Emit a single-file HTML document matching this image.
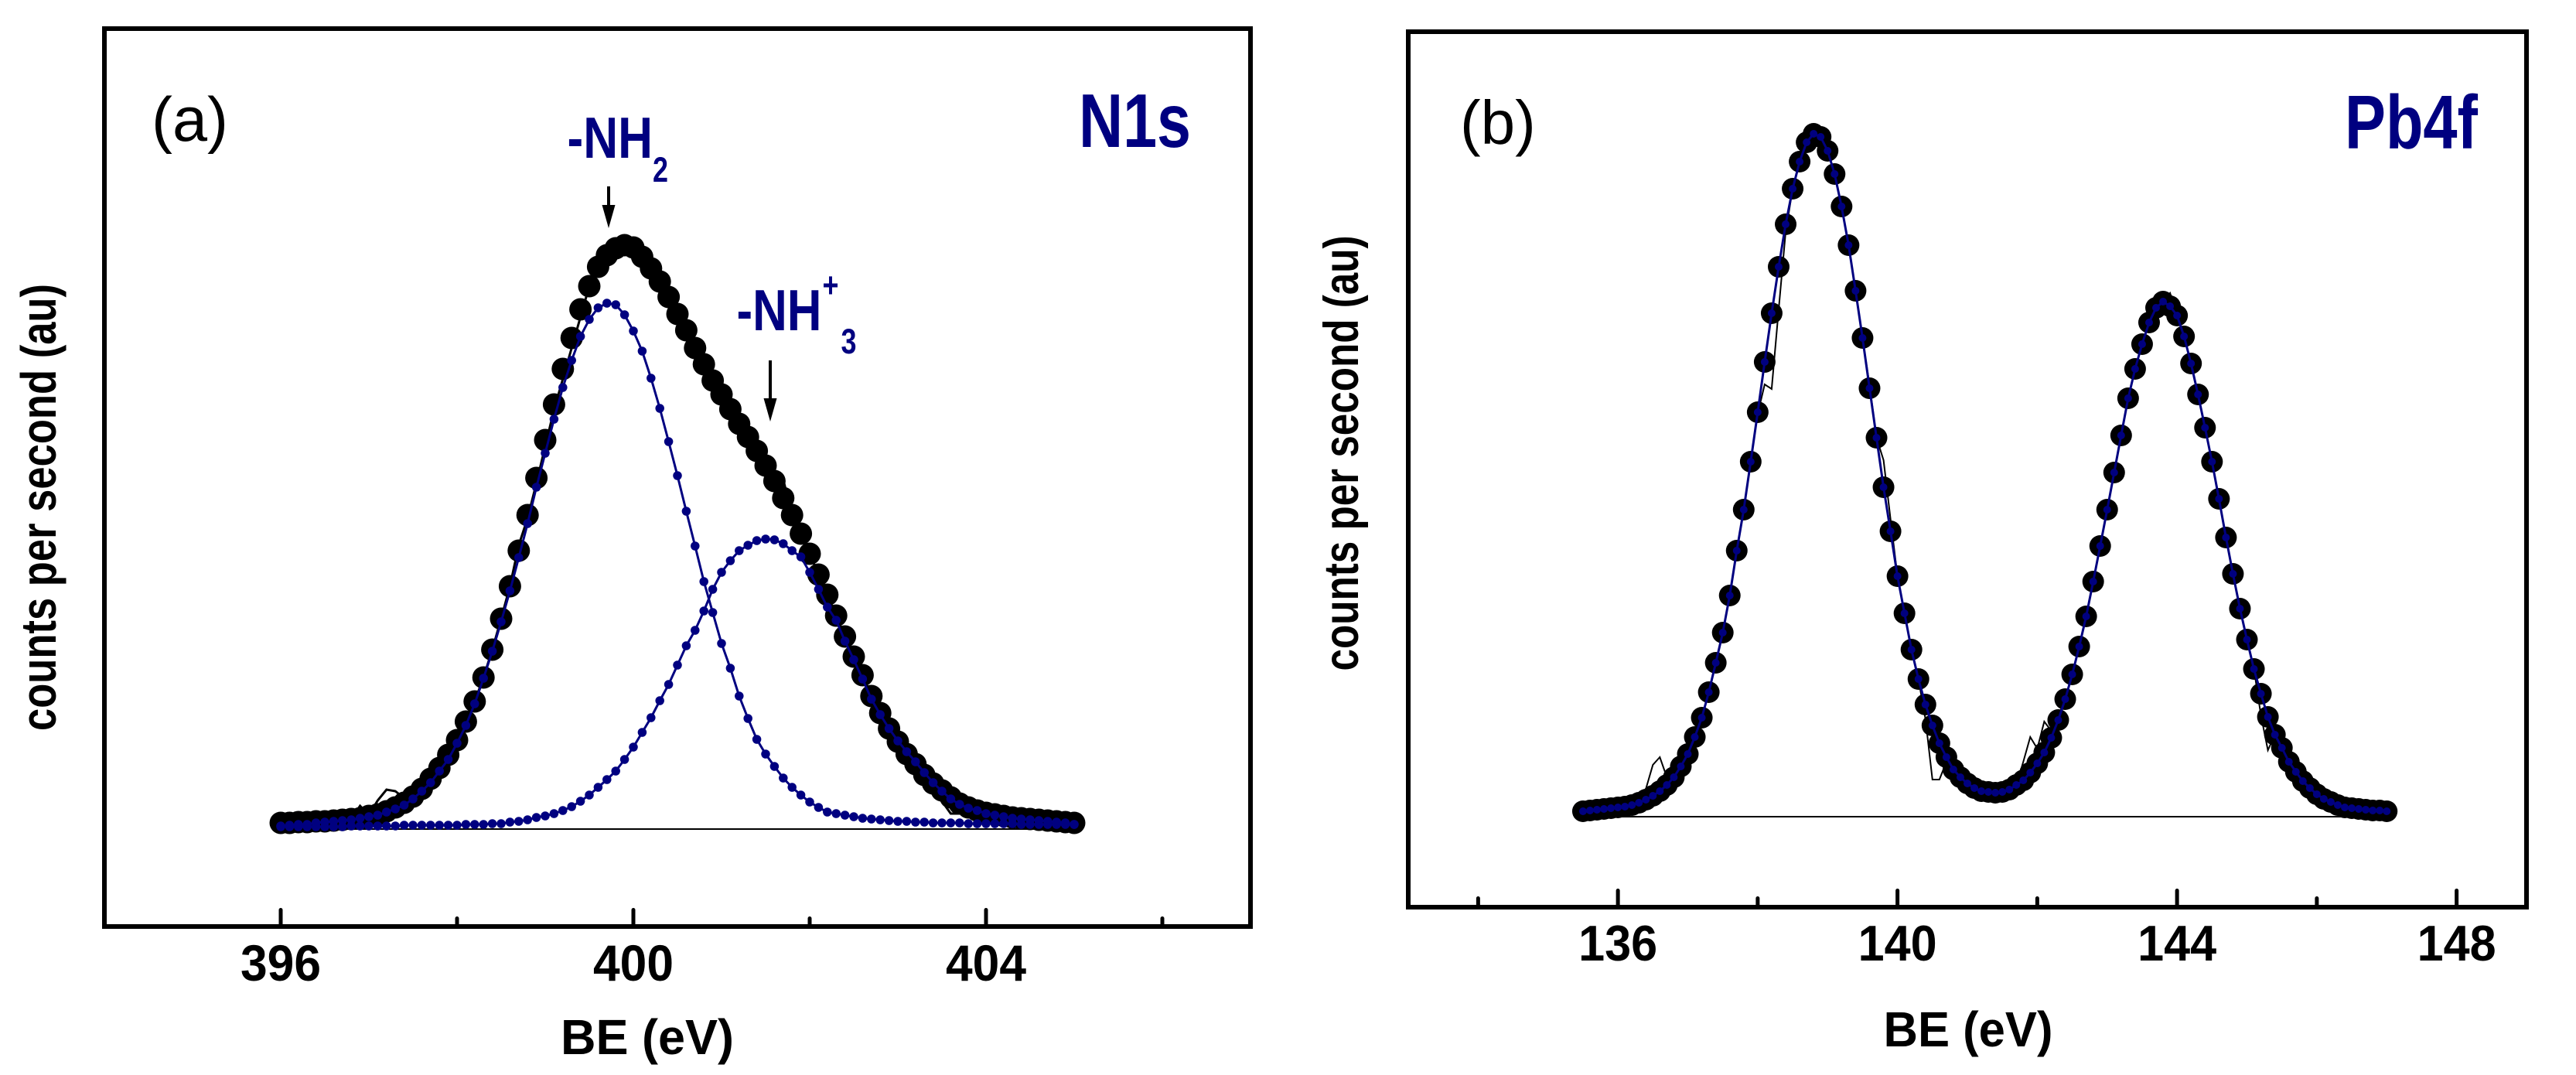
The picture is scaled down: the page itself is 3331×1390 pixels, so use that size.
<!DOCTYPE html>
<html lang="en">
<head>
<meta charset="utf-8">
<title>XPS N1s and Pb4f spectra</title>
<style>
html,body{margin:0;padding:0;background:#fff;}
svg{display:block;}
text{font-family:"Liberation Sans",Arial,sans-serif;}
</style>
</head>
<body>
<svg id="chart" xmlns="http://www.w3.org/2000/svg" width="3331" height="1390" viewBox="0 0 3331 1390">
  <rect x="0" y="0" width="3331" height="1390" fill="#ffffff"/>
  <g id="panel-a"></g>
  <g id="panel-b"></g>

  <text x="196" y="182" font-size="81" fill="#000">(a)</text>
  <text x="1395" y="190" font-size="98" font-weight="bold" fill="#000080" textLength="145" lengthAdjust="spacingAndGlyphs">N1s</text>
  <text x="733.5" y="204" font-size="75.5" font-weight="bold" fill="#000080" textLength="110.5" lengthAdjust="spacingAndGlyphs">-NH</text>
  <text x="844" y="235" font-size="45" font-weight="bold" fill="#000080" textLength="20" lengthAdjust="spacingAndGlyphs">2</text>
  <text x="952.5" y="427" font-size="75.5" font-weight="bold" fill="#000080" textLength="110" lengthAdjust="spacingAndGlyphs">-NH</text>
  <text x="1063.5" y="384" font-size="45" font-weight="bold" fill="#000080" textLength="21" lengthAdjust="spacingAndGlyphs">+</text>
  <text x="1087.5" y="457" font-size="45" font-weight="bold" fill="#000080" textLength="20" lengthAdjust="spacingAndGlyphs">3</text>
  <g>
    <line x1="787" y1="241" x2="787" y2="270" stroke="#000" stroke-width="4"/>
    <polygon points="778.5,265 795.5,265 787,295" fill="#000"/>
  </g>
  <g>
    <line x1="996" y1="466" x2="996" y2="520" stroke="#000" stroke-width="4"/>
    <polygon points="987.5,515 1004.5,515 996,545" fill="#000"/>
  </g>
  <text x="837" y="1363" font-size="64" font-weight="bold" text-anchor="middle" fill="#000" textLength="224" lengthAdjust="spacingAndGlyphs">BE (eV)</text>
  <text transform="translate(72,656) rotate(-90)" font-size="64" font-weight="bold" text-anchor="middle" fill="#000" textLength="578" lengthAdjust="spacingAndGlyphs">counts per second (au)</text>

  <text x="1888" y="186" font-size="80" fill="#000">(b)</text>
  <text x="3032" y="192" font-size="98" font-weight="bold" fill="#000080" textLength="172" lengthAdjust="spacingAndGlyphs">Pb4f</text>
  <text x="2545" y="1353" font-size="64" font-weight="bold" text-anchor="middle" fill="#000" textLength="219" lengthAdjust="spacingAndGlyphs">BE (eV)</text>
  <text transform="translate(1756,586) rotate(-90)" font-size="63" font-weight="bold" text-anchor="middle" fill="#000" textLength="563" lengthAdjust="spacingAndGlyphs">counts per second (au)</text>
</svg>

<script>
/* ---------- Panel (a): N1s ---------- */
const n1sEnergy = [396,396.1,396.2,396.3,396.4,396.5,396.6,396.7,396.8,396.9,397,397.1,397.2,397.3,397.4,397.5,397.6,397.7,397.8,397.9,398,398.1,398.2,398.3,398.4,398.5,398.6,398.7,398.8,398.9,399,399.1,399.2,399.3,399.4,399.5,399.6,399.7,399.8,399.9,400,400.1,400.2,400.3,400.4,400.5,400.6,400.7,400.8,400.9,401,401.1,401.2,401.3,401.4,401.5,401.6,401.7,401.8,401.9,402,402.1,402.2,402.3,402.4,402.5,402.6,402.7,402.8,402.9,403,403.1,403.2,403.3,403.4,403.5,403.6,403.7,403.8,403.9,404,404.1,404.2,404.3,404.4,404.5,404.6,404.7,404.8,404.9,405];
const n1sMeasured = [8,8,9,9,10,10,11,12,13,14,17,19,23,28,34,42,52,65,79,96,115,139,165,196,232,272,314,360,406,454,503,549,595,635,672,702,727,742,751,755,752,740,725,708,688,666,645,622,601,580,562,543,524,507,489,470,450,428,406,382,356,329,303,276,249,223,199,172,150,130,113,97,84,70,59,50,41,33,28,24,21,19,17,15,14,13,12,11,10,9,8];
const n1sRaw = [8,8,9,9,10,10,11,12,13,30,18,37,51,49,40,42,52,65,79,96,115,139,165,196,232,272,314,367,402,447,495,542,582,622,662,702,727,742,751,755,752,740,725,708,688,666,645,622,601,580,562,543,524,507,489,470,450,452,406,382,356,329,303,276,249,223,199,172,150,130,113,97,84,70,59,36,20,20,28,24,21,19,17,15,14,13,12,11,10,9,8];
const n1sNH2 = [4,5,6,6,8,9,10,11,12,14,16,18,22,26,31,39,49,60,75,90,111,134,162,195,230,268,308,351,395,442,486,530,571,606,637,659,674,680,678,665,644,618,583,544,501,457,411,366,320,280,240,208,172,143,116,97,81,66,54,44,35,28,22,20,18,16,14,13,12,11,10,10,9,9,8,8,8,8,7,7,7,7,7,7,6,6,6,6,6,6,6];
const n1sNH3 = [3,3,3,3,3,3,3,3,4,4,4,4,4,4,5,5,5,5,5,5,5,6,6,6,7,7,9,10,12,15,17,20,24,29,36,44,54,64,75,90,106,125,144,166,187,212,237,257,282,310,332,347,360,367,373,375,374,369,360,352,332,310,287,270,243,219,194,168,148,130,114,100,87,73,60,49,39,32,27,24,20,18,16,14,13,12,11,10,9,8,6];
const n1sMajorTicks = [396,400,404];
const n1sMinorTicks = [398,402,406];
const n1sTickLabels = ["396","400","404"];
const n1sXDomain = [394,407];
const n1sYDomain = [-126,1035];
const n1sBaseline = [0,0];
const n1sBaselineX = [396,405];

/* ---------- Panel (b): Pb4f ---------- */
const pb4fEnergy = [135.5,135.6,135.7,135.8,135.9,136,136.1,136.2,136.3,136.4,136.5,136.6,136.7,136.8,136.9,137,137.1,137.2,137.3,137.4,137.5,137.6,137.7,137.8,137.9,138,138.1,138.2,138.3,138.4,138.5,138.6,138.7,138.8,138.9,139,139.1,139.2,139.3,139.4,139.5,139.6,139.7,139.8,139.9,140,140.1,140.2,140.3,140.4,140.5,140.6,140.7,140.8,140.9,141,141.1,141.2,141.3,141.4,141.5,141.6,141.7,141.8,141.9,142,142.1,142.2,142.3,142.4,142.5,142.6,142.7,142.8,142.9,143,143.1,143.2,143.3,143.4,143.5,143.6,143.7,143.8,143.9,144,144.1,144.2,144.3,144.4,144.5,144.6,144.7,144.8,144.9,145,145.1,145.2,145.3,145.4,145.5,145.6,145.7,145.8,145.9,146,146.1,146.2,146.3,146.4,146.5,146.6,146.7,146.8,146.9,147];
const pb4fMeasured = [7,8,9,10,11,12,13,15,18,22,27,33,41,51,65,81,103,128,161,199,238,286,344,397,459,523,588,651,711,766,812,847,872,883,879,861,831,789,739,680,619,554,490,426,369,311,263,216,178,145,118,95,77,61,51,43,37,33,32,31,32,35,41,47,57,69,83,102,125,152,184,220,259,304,350,397,445,493,541,579,611,639,658,666,660,648,621,586,546,503,459,411,361,314,269,229,191,159,129,106,89,71,58,46,37,29,23,19,15,12,11,10,9,8,8,7];
const pb4fFit = [7,8,9,10,11,12,13,15,18,22,27,33,41,51,65,81,103,128,161,199,238,286,344,397,459,523,588,651,711,766,812,847,872,883,879,861,831,789,739,680,619,554,490,426,369,311,263,216,178,145,118,95,77,61,51,43,37,33,32,31,32,35,41,47,57,69,83,102,125,152,184,220,259,304,350,397,445,493,541,579,611,639,658,666,660,648,621,586,546,503,459,411,361,314,269,229,191,159,129,106,89,71,58,46,37,29,23,19,15,12,11,10,9,8,8,7];
const pb4fRaw = [7,8,9,10,11,12,13,15,18,36,67,77,51,51,65,81,103,128,161,199,238,286,344,397,459,521,559,553,656,756,812,847,872,883,879,861,831,789,739,680,619,558,490,461,385,311,263,216,178,126,48,48,71,61,51,43,37,33,32,31,32,35,41,71,103,88,123,111,130,152,184,220,259,304,350,397,445,493,541,579,611,639,658,666,677,648,621,586,546,503,459,411,361,314,269,229,191,131,86,106,89,71,58,46,37,29,23,19,15,12,11,10,9,8,8,7];
const pb4fMajorTicks = [136,140,144,148];
const pb4fMinorTicks = [134,138,142,146];
const pb4fTickLabels = ["136","140","144","148"];
const pb4fXDomain = [133,149];
const pb4fYDomain = [-117,1015];
const pb4fBaseline = [0,0];
const pb4fBaselineX = [135.5,147];

const SVG_NS = "http://www.w3.org/2000/svg";

function linearScale(domain, range) {
  return function (v) {
    return range[0] + (v - domain[0]) / (domain[1] - domain[0]) * (range[1] - range[0]);
  };
}

function makeEl(tag, attrs, parent) {
  const el = document.createElementNS(SVG_NS, tag);
  for (const key in attrs) {
    el.setAttribute(key, attrs[key]);
  }
  parent.appendChild(el);
  return el;
}

function pointsOf(xs, ys, xScale, yScale) {
  return xs.map(function (x, i) {
    return xScale(x).toFixed(1) + "," + yScale(ys[i]).toFixed(1);
  }).join(" ");
}

function drawFrame(parent, box) {
  const frame = makeEl("rect", {x: box.left, y: box.top, width: box.right - box.left, height: box.bottom - box.top, fill: "none", stroke: "#000", "stroke-width": 6}, parent);
  
  
}

function drawTicks(parent, values, xScale, box, length, labels, labelOpts) {
  values.forEach(function (v, i) {
    const tick = makeEl("line", {x1: xScale(v), x2: xScale(v), y1: box.bottom, y2: box.bottom - length, stroke: "#000", "stroke-width": 5, "stroke-linecap": "round"}, parent);
    
    
    if (labels) {
      const label = makeEl("text", {x: xScale(v), y: labelOpts.y, "font-size": labelOpts.size, "font-weight": "bold", "text-anchor": "middle", fill: "#000", textLength: labelOpts.width, lengthAdjust: "spacingAndGlyphs"}, parent);
      
      
      label.textContent = labels[i];
    }
  });
}

function drawBaseline(parent, xs, ys, xScale, yScale) {
  const base = makeEl("line", {x1: xScale(xs[0]), x2: xScale(xs[1]), y1: yScale(ys[0]), y2: yScale(ys[1]), stroke: "#000", "stroke-width": 2}, parent);
  
  
}

function drawRaw(parent, xs, ys, xScale, yScale, width) {
  const raw = makeEl("polyline", {points: pointsOf(xs, ys, xScale, yScale), fill: "none", stroke: "#000", "stroke-width": width}, parent);
  
  
}

function drawMeasured(parent, xs, ys, xScale, yScale, r) {
  xs.forEach(function (x, i) {
    const c = makeEl("circle", {cx: xScale(x), cy: yScale(ys[i]), r: r, fill: "#000"}, parent);
    
    
  });
}

function drawFitLine(parent, xs, ys, xScale, yScale, r) {
  const line = makeEl("polyline", {points: pointsOf(xs, ys, xScale, yScale), fill: "none", stroke: "#000080", "stroke-width": 3}, parent);
  
  
  xs.forEach(function (x, i) {
    const c = makeEl("circle", {cx: xScale(x), cy: yScale(ys[i]), r: r, fill: "#000080"}, parent);
    
    
  });
}

/* Panel (a) */
(function () {
  const parent = document.getElementById("panel-a");
  const box = {left: 135, right: 1617, top: 37, bottom: 1198};
  const x = linearScale(n1sXDomain, [box.left, box.right]);
  const y = linearScale(n1sYDomain, [box.bottom, box.top]);
  drawBaseline(parent, n1sBaselineX, n1sBaseline, x, y);
  drawRaw(parent, n1sEnergy, n1sRaw, x, y, 3);
  drawMeasured(parent, n1sEnergy, n1sMeasured, x, y, 14.5);
  drawFitLine(parent, n1sEnergy, n1sNH2, x, y, 5.75);
  drawFitLine(parent, n1sEnergy, n1sNH3, x, y, 5.75);
  drawTicks(parent, n1sMajorTicks, x, box, 21.5, n1sTickLabels, {y: 1268, size: 66, width: 104});
  drawTicks(parent, n1sMinorTicks, x, box, 10.5);
  drawFrame(parent, box);
})();

/* Panel (b) */
(function () {
  const parent = document.getElementById("panel-b");
  const box = {left: 1821, right: 3267, top: 41, bottom: 1173};
  const x = linearScale(pb4fXDomain, [box.left, box.right]);
  const y = linearScale(pb4fYDomain, [box.bottom, box.top]);
  drawBaseline(parent, pb4fBaselineX, pb4fBaseline, x, y);
  drawRaw(parent, pb4fEnergy, pb4fRaw, x, y, 2);
  drawMeasured(parent, pb4fEnergy, pb4fMeasured, x, y, 14);
  drawFitLine(parent, pb4fEnergy, pb4fFit, x, y, 5);
  drawTicks(parent, pb4fMajorTicks, x, box, 21.5, pb4fTickLabels, {y: 1242, size: 65, width: 102});
  drawTicks(parent, pb4fMinorTicks, x, box, 11.5);
  drawFrame(parent, box);
})();
</script>
</body>
</html>
